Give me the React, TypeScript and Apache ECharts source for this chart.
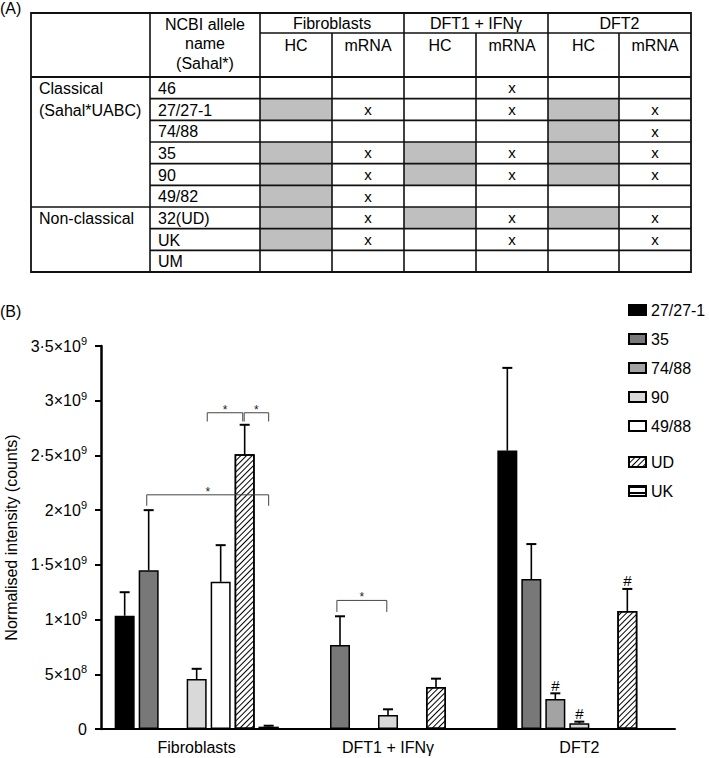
import React, { useEffect, useRef } from 'react';
import * as echarts from 'echarts';

const FONT = '"Liberation Sans", Arial, Helvetica, sans-serif';

// ---------- Panel (A) table data ----------
const alleleNames = ['46', '27/27-1', '74/88', '35', '90', '49/82', '32(UD)', 'UK', 'UM'];
const fibHC = [0, 1, 0, 1, 1, 1, 1, 1, 0];
const fibMRNA = [0, 1, 0, 1, 1, 1, 1, 1, 0];
const dft1HC = [0, 0, 0, 1, 1, 0, 1, 0, 0];
const dft1MRNA = [1, 1, 0, 1, 1, 0, 1, 1, 0];
const dft2HC = [0, 1, 1, 1, 1, 0, 1, 0, 0];
const dft2MRNA = [0, 1, 1, 1, 1, 0, 1, 1, 0];
const subHeaders = ['HC', 'mRNA'];

// ---------- Panel (B) chart data ----------
const categories = ['Fibroblasts', 'DFT1 + IFNγ', 'DFT2'];
const seriesNames = ['27/27-1', '35', '74/88', '90', '49/88', 'UD', 'UK'];
const mean2727 = [1.035e9, null, 2.544e9];
const err2727 = [1.25e9, null, 3.3e9];
const mean35 = [1.45e9, 0.768e9, 1.371e9];
const err35 = [2.0e9, 1.03e9, 1.69e9];
const mean7488 = [null, null, 0.274e9];
const err7488 = [null, null, 0.326e9];
const mean90 = [0.457e9, 0.128e9, 0.052e9];
const err90 = [0.55e9, 0.18e9, 0.067e9];
const mean4988 = [1.345e9, null, null];
const err4988 = [1.68e9, null, null];
const meanUD = [2.51e9, 0.384e9, 1.079e9];
const errUD = [2.78e9, 0.46e9, 1.28e9];
const meanUK = [0.02e9, null, null];
const errUK = [0.03e9, null, null];
const hash7488 = [0, 0, 1];
const hash90 = [0, 0, 1];
const hashUD = [0, 0, 1];

const yTickMant = ['0', '5', '1', '1·5', '2', '2·5', '3', '3·5'];
const yTickExp = ['', '8', '9', '9', '9', '9', '9', '9'];

// significance brackets: [category, fromSlot, toSlot, topValue, legValue]
const brackets = [
  [0, 3.44, 4.92, 2.89e9, 2.81e9],
  [0, 4.98, 6.0, 2.89e9, 2.81e9],
  [0, 0.92, 6.0, 2.14e9, 2.04e9],
  [1, 0.87, 2.95, 1.175e9, 1.07e9],
];

const means = [mean2727, mean35, mean7488, mean90, mean4988, meanUD, meanUK];
const errs = [err2727, err35, err7488, err90, err4988, errUD, errUK];
const hashes = [null, null, hash7488, hash90, null, hashUD, null];

const fills = ['#000000', '#787878', '#a3a3a3', '#d9d9d9', '#ffffff', '#ffffff', '#ffffff'];

const BAR_W = 20;
const BAR_GAP = 4;
const STRIDE = BAR_W + BAR_GAP;
const NS = 7;

export default function App() {
  const ref = useRef<HTMLDivElement>(null);

  useEffect(() => {
    const chart = echarts.init(ref.current!, null, { renderer: 'svg' });

    // ---------- table graphic ----------
    const TX = [31, 150, 260, 332, 404, 476, 548, 619, 691];
    const TY0 = 13;
    const TY1 = 33;
    const TY2 = 77;
    const TYB = 272;
    const rowH = (TYB - TY2) / alleleNames.length;
    const rowY = (i: number) => TY2 + i * rowH;
    const g: any[] = [];
    const txt = (text: string, x: number, y: number, align: string, size = 16) => ({
      type: 'text',
      x,
      y,
      style: {
        text,
        fontSize: size,
        fontFamily: FONT,
        fill: '#000',
        textAlign: align,
        textVerticalAlign: 'middle',
      },
    });
    const ln = (x1: number, y1: number, x2: number, y2: number, w = 1.6) => ({
      type: 'line',
      shape: { x1, y1, x2, y2 },
      style: { stroke: '#111', lineWidth: w },
    });
    const hcCols = [fibHC, dft1HC, dft2HC];
    const mrnaCols = [fibMRNA, dft1MRNA, dft2MRNA];
    hcCols.forEach((col, k) => {
      col.forEach((v, i) => {
        if (v) {
          g.push({
            type: 'rect',
            shape: { x: TX[2 + 2 * k], y: rowY(i), width: TX[3 + 2 * k] - TX[2 + 2 * k], height: rowH },
            style: { fill: '#bfbfbf' },
          });
        }
      });
    });
    mrnaCols.forEach((col, k) => {
      col.forEach((v, i) => {
        if (v) g.push(txt('x', (TX[3 + 2 * k] + TX[4 + 2 * k]) / 2, rowY(i) + rowH / 2, 'center', 15));
      });
    });
    // lines
    g.push({ type: 'rect', shape: { x: TX[0], y: TY0, width: TX[8] - TX[0], height: TYB - TY0 }, style: { fill: 'none', stroke: '#111', lineWidth: 1.8 } });
    [1, 2, 4, 6].forEach((c) => g.push(ln(TX[c], TY0, TX[c], TYB)));
    [3, 5, 7].forEach((c) => g.push(ln(TX[c], TY1, TX[c], TYB)));
    g.push(ln(TX[2], TY1, TX[8], TY1));
    g.push(ln(TX[0], TY2, TX[8], TY2, 1.8));
    for (let i = 1; i < alleleNames.length; i++) {
      g.push(ln(i === 6 ? TX[0] : TX[1], rowY(i), TX[8], rowY(i)));
    }
    // header texts
    g.push(txt('NCBI allele', (TX[1] + TX[2]) / 2, 24, 'center'));
    g.push(txt('name', (TX[1] + TX[2]) / 2, 43.5, 'center'));
    g.push(txt('(Sahal*)', (TX[1] + TX[2]) / 2, 63, 'center'));
    categories.forEach((c, k) => {
      g.push(txt(c, (TX[2 + 2 * k] + TX[4 + 2 * k]) / 2, 23.5, 'center'));
      subHeaders.forEach((s, j) => {
        g.push(txt(s, (TX[2 + 2 * k + j] + TX[3 + 2 * k + j]) / 2, 45.5, 'center'));
      });
    });
    alleleNames.forEach((a, i) => g.push(txt(a, TX[1] + 8, rowY(i) + rowH / 2 + 0.5, 'left')));
    g.push(txt('Classical', TX[0] + 8, rowY(0) + rowH / 2 + 0.5, 'left'));
    g.push(txt('(Sahal*UABC)', TX[0] + 8, rowY(1) + rowH / 2 + 0.5, 'left'));
    g.push(txt('Non-classical', TX[0] + 8, rowY(6) + rowH / 2 + 0.5, 'left'));
    g.push(txt('(A)', 0, 8, 'left', 16));
    g.push(txt('(B)', 0, 311, 'left', 16));

    // ---------- bars ----------
    const decals: any[] = [
      null, null, null, null, null,
      { symbol: 'rect', symbolSize: 1, dashArrayX: [1, 0], dashArrayY: [0.9, 3], rotation: -Math.PI / 4, color: '#000', backgroundColor: '#fff' },
      { symbol: 'rect', symbolSize: 1, dashArrayX: [1, 0], dashArrayY: [1.4, 3.6], rotation: 0, color: '#000', backgroundColor: '#fff' },
    ];
    const barSeries = seriesNames.map((name, i) => ({
      type: 'bar',
      name,
      data: means[i],
      barWidth: BAR_W,
      barGap: (BAR_GAP / BAR_W) * 100 + '%',
      itemStyle: {
        color: fills[i],
        borderColor: '#000',
        borderWidth: 1.5,
        decal: decals[i] || undefined,
      },
      emphasis: { disabled: true },
      z: 2,
    }));

    const errData: any[] = [];
    seriesNames.forEach((_, i) => {
      categories.forEach((__, c) => {
        const m = means[i][c];
        if (m != null) {
          const h = hashes[i] ? hashes[i]![c] : 0;
          errData.push([c, i, m, errs[i][c], h]);
        }
      });
    });

    const errSeries = {
      type: 'custom',
      name: 'errorbars',
      data: errData,
      encode: { x: 0, y: 3 },
      z: 3,
      silent: true,
      renderItem: (params: any, api: any) => {
        const c = api.value(0);
        const slot = api.value(1);
        const m = api.value(2);
        const e = api.value(3);
        const h = api.value(4);
        const cx = api.coord([c, 0])[0] + (slot - (NS - 1) / 2) * STRIDE;
        const yM = api.coord([c, m])[1];
        const yE = api.coord([c, e])[1];
        const children: any[] = [
          { type: 'line', shape: { x1: cx, y1: yM, x2: cx, y2: yE }, style: { stroke: '#000', lineWidth: 1.6 } },
          { type: 'line', shape: { x1: cx - 5, y1: yE, x2: cx + 5, y2: yE }, style: { stroke: '#000', lineWidth: 2 } },
        ];
        if (h) {
          children.push({
            type: 'text',
            x: cx,
            y: yE - 8,
            style: { text: '#', fontSize: 15, fontFamily: FONT, fill: '#000', textAlign: 'center', textVerticalAlign: 'middle' },
          });
        }
        return { type: 'group', children };
      },
    };

    const bracketSeries = {
      type: 'custom',
      name: 'brackets',
      data: brackets,
      encode: { x: 0, y: 3 },
      z: 4,
      silent: true,
      renderItem: (params: any, api: any) => {
        const c = api.value(0);
        const base = api.coord([c, 0])[0];
        const xL = base + (api.value(1) - (NS - 1) / 2) * STRIDE;
        const xR = base + (api.value(2) - (NS - 1) / 2) * STRIDE;
        const yT = api.coord([c, api.value(3)])[1];
        const yL = api.coord([c, api.value(4)])[1];
        return {
          type: 'group',
          children: [
            {
              type: 'polyline',
              shape: { points: [[xL, yL], [xL, yT], [xR, yT], [xR, yL]] },
              style: { stroke: '#444', lineWidth: 1, fill: 'none' },
            },
            {
              type: 'text',
              x: (xL + xR) / 2,
              y: yT - 3,
              style: { text: '*', fontSize: 12, fontFamily: FONT, fill: '#222', textAlign: 'center', textVerticalAlign: 'middle' },
            },
          ],
        };
      },
    };

    const legendCommon = {
      orient: 'vertical',
      left: 623,
      itemWidth: 17,
      itemHeight: 10,
      itemGap: 13,
      icon: 'rect',
      selectedMode: false,
      textStyle: { fontSize: 16, lineHeight: 16, color: '#000', fontFamily: FONT },
    };

    chart.setOption({
      animation: false,
      backgroundColor: '#fff',
      textStyle: { fontFamily: FONT },
      graphic: g,
      legend: [
        { ...legendCommon, top: 297, data: seriesNames.slice(0, 5) },
        { ...legendCommon, top: 449, data: seriesNames.slice(5) },
      ],
      grid: { left: 101, top: 346, width: 574, height: 383, containLabel: false, outerBoundsMode: 'none' },
      xAxis: {
        type: 'category',
        data: categories,
        axisLine: { lineStyle: { color: '#000', width: 2 } },
        axisTick: { alignWithLabel: true, length: 6, lineStyle: { color: '#000', width: 2 } },
        axisLabel: { fontSize: 16, color: '#000', margin: 10, fontFamily: FONT },
      },
      yAxis: {
        type: 'value',
        min: 0,
        max: 3.5e9,
        interval: 0.5e9,
        name: 'Normalised intensity (counts)',
        nameLocation: 'middle',
        nameRotate: 90,
        nameGap: 82,
        nameTextStyle: { fontSize: 16, color: '#000', fontFamily: FONT },
        splitLine: { show: false },
        axisLine: { show: true, lineStyle: { color: '#000', width: 2.5 } },
        axisTick: { show: true, length: 6, lineStyle: { color: '#000', width: 2 } },
        axisLabel: {
          margin: 14,
          color: '#000',
          formatter: (v: number) => {
            const k = Math.round(v / 0.5e9);
            return yTickExp[k] ? `{m|${yTickMant[k]}×10}{e|${yTickExp[k]}}` : `{m|${yTickMant[k]}}`;
          },
          rich: {
            m: { fontSize: 16, fontFamily: FONT, color: '#000', lineHeight: 21 },
            e: { fontSize: 11, fontFamily: FONT, color: '#000', verticalAlign: 'top', lineHeight: 12 },
          },
        },
      },
      series: [...barSeries, errSeries, bracketSeries],
    });

    return () => chart.dispose();
  }, []);

  return <div ref={ref} style={{ position: 'fixed', left: 0, top: 0, width: 709, height: 758 }} />;
}
